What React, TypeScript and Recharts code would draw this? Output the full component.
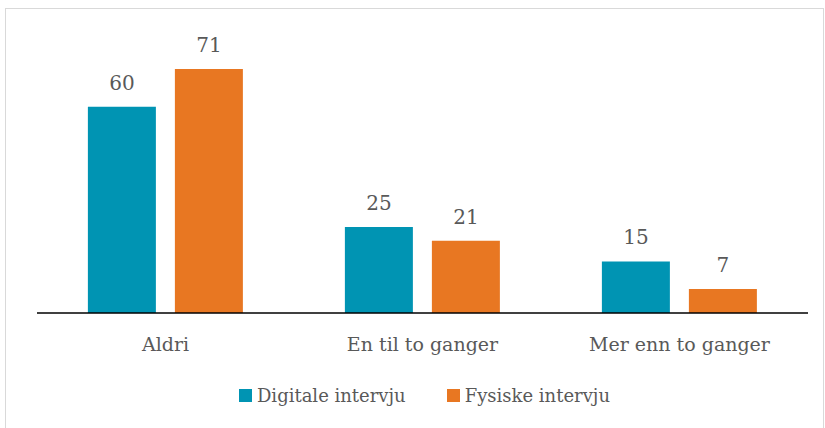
import React from 'react';
import { BarChart, Bar, XAxis, YAxis, Legend, LabelList } from 'recharts';

const categories = ['Aldri', 'En til to ganger', 'Mer enn to ganger'];
const digitale = [60, 25, 15];
const fysiske = [71, 21, 7];

const data = categories.map((name, i) => ({ name, digitale: digitale[i], fysiske: fysiske[i] }));

const FONT = '"DejaVu Serif", serif';
const TEXT = '#595959';

const renderLegend = (props: any) => {
  const { payload } = props;
  return (
    <div style={{ display: 'flex', justifyContent: 'center', gap: 41, fontFamily: FONT, fontSize: 18, color: TEXT, paddingLeft: 24 }}>
      {payload.map((entry: any) => (
        <div key={entry.value} style={{ display: 'flex', alignItems: 'center' }}>
          <div style={{ width: 13, height: 13, background: entry.color, marginRight: 5 }} />
          <span>{entry.value}</span>
        </div>
      ))}
    </div>
  );
};

const App = () => {
  return (
    <div style={{ position: 'absolute', left: 0, top: 0, width: 825, height: 428, background: '#fff' }}>
      <div style={{ position: 'absolute', left: 5, top: 8, right: 1, bottom: 0, border: '1px solid #d9d9d9', borderBottom: 'none', boxSizing: 'border-box' }} />
      <BarChart
        width={825}
        height={428}
        data={data}
        margin={{ top: 38, right: 17, bottom: 85, left: 37 }}
        barCategoryGap="19.8%"
        barGap={19}
      >
        <YAxis hide domain={[0, 80]} />
        <XAxis
          dataKey="name"
          height={30}
          axisLine={{ stroke: '#000', strokeWidth: 1.5 }}
          tickLine={false}
          tickSize={6}
          tickMargin={19}
          tick={{ fill: TEXT, fontSize: 19, fontFamily: FONT }}
        />
        <Legend
          verticalAlign="middle"
          wrapperStyle={{ top: 385, left: 0, width: 825 }}
          content={renderLegend}
        />
        <Bar dataKey="digitale" name="Digitale intervju" fill="#0094B3" isAnimationActive={false}>
          <LabelList dataKey="digitale" position="top" offset={17} fill={TEXT} fontSize={20} fontFamily={FONT} />
        </Bar>
        <Bar dataKey="fysiske" name="Fysiske intervju" fill="#E87722" isAnimationActive={false}>
          <LabelList dataKey="fysiske" position="top" offset={17} fill={TEXT} fontSize={20} fontFamily={FONT} />
        </Bar>
      </BarChart>
    </div>
  );
};

export default App;
